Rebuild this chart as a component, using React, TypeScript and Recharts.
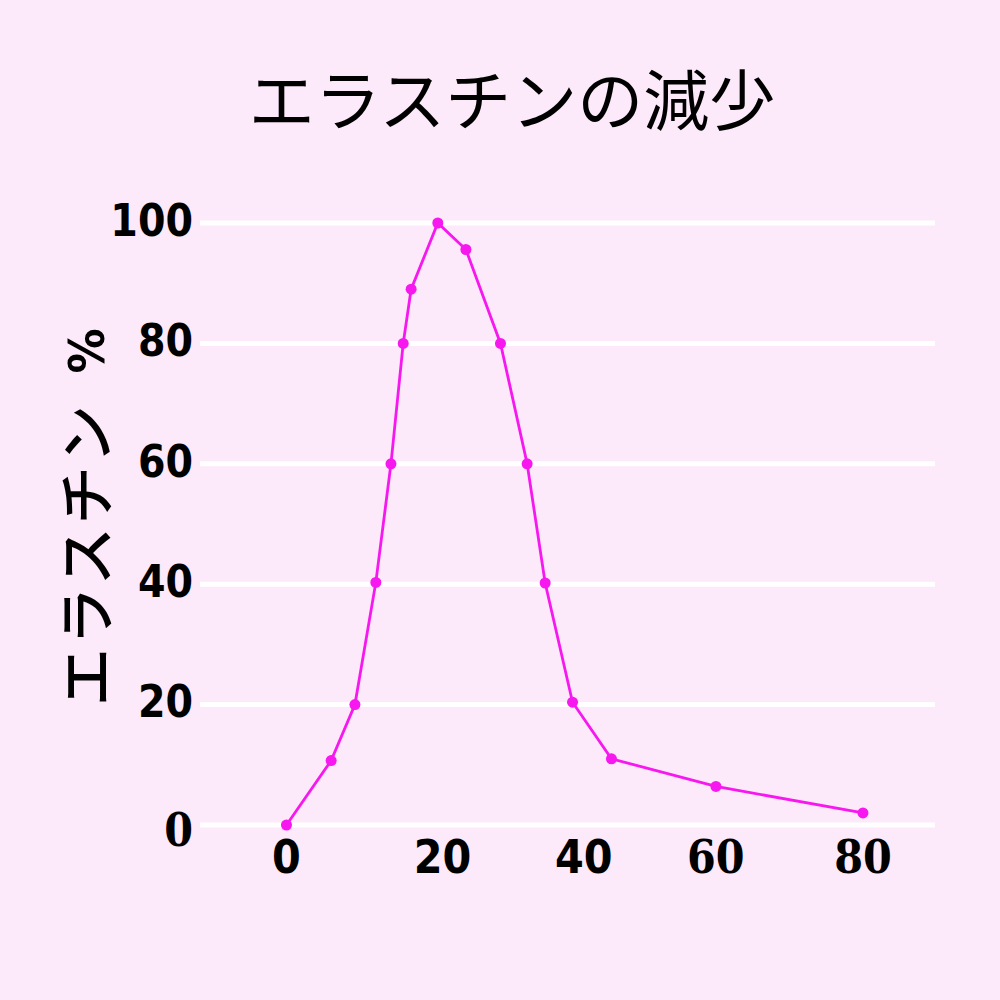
import { LineChart, Line, XAxis, YAxis, CartesianGrid } from "recharts";

// age (years) vs. relative elastin amount (%)
const ages = [0, 6.2, 9.5, 12.4, 14.5, 16.2, 17.3, 21, 24.9, 29.7, 33.4, 35.9, 39.7, 45.1, 59.6, 80];
const elastin = [0, 10.7, 20, 40.3, 60, 80, 89, 100, 95.6, 80, 60, 40.2, 20.4, 11, 6.4, 2];
const xTicks = [0, 20, 40, 60, 80];
const yTicks = [0, 20, 40, 60, 80, 100];
const title = "エラスチンの減少";
const yLabel = "エラスチン";
const yUnit = "%";

const data = ages.map((age, i) => ({ age, value: elastin[i] }));

const BG = "#fce9f9";
const MAGENTA = "#f618ef";
const SANS = '"DejaVu Sans", sans-serif';
const SERIF = '"DejaVu Serif", serif';
const CJK = '"Noto Sans CJK JP", sans-serif';

// the original mixes fonts and nudges a few tick labels
const xTickFont = [SANS, SANS, SANS, SERIF, SERIF];
const xTickShift = [0, 12, 9, -3, 0];

function XTick({ x, y, payload, index }: any) {
  return (
    <text
      x={x + (xTickShift[index] ?? 0)}
      y={y + 23}
      dy="0.36em"
      textAnchor="middle"
      fontFamily={xTickFont[index] ?? SANS}
      fontWeight="bold"
      fontSize={46}
      fill="#000"
      style={{ fontStretch: "condensed" }}
    >
      {payload.value}
    </text>
  );
}

function YTick({ x, y, payload }: any) {
  const isZero = payload.value === 0;
  return (
    <text
      x={x + 1}
      y={y + (isZero ? 4 : -3)}
      dy="0.36em"
      textAnchor="end"
      fontFamily={isZero ? SERIF : SANS}
      fontWeight="bold"
      fontSize={isZero ? 46 : 44}
      fill="#000"
      style={{ fontStretch: "condensed" }}
    >
      {payload.value}
    </text>
  );
}

export default function App() {
  return (
    <div style={{ position: "absolute", left: 0, top: 0, width: 1000, height: 1000, background: BG }}>
      <LineChart width={1000} height={1000} data={data} margin={{ top: 223, right: 65, bottom: 115, left: 80 }}>
        <CartesianGrid horizontal vertical={false} stroke="#ffffff" strokeWidth={5} />
        <XAxis
          dataKey="age"
          type="number"
          domain={[-12, 90]}
          ticks={xTicks}
          height={60}
          axisLine={false}
          tickLine={false}
          tick={<XTick />}
          interval={0}
        />
        <YAxis
          type="number"
          domain={[0, 100]}
          ticks={yTicks}
          width={120}
          axisLine={false}
          tickLine={false}
          tick={<YTick />}
          interval={0}
        />
        <Line
          type="linear"
          dataKey="value"
          stroke={MAGENTA}
          strokeWidth={2.8}
          dot={{ r: 5.5, fill: MAGENTA, stroke: MAGENTA, strokeWidth: 0 }}
          activeDot={false}
          isAnimationActive={false}
        />
      </LineChart>
      <svg width={1000} height={1000} style={{ position: "absolute", left: 0, top: 0, pointerEvents: "none" }}>
        <text x={512} y={102} dy="0.35em" textAnchor="middle" fontFamily={CJK} fontSize={66} fill="#000">
          {title}
        </text>
        <text
          transform="translate(108,706) rotate(-90)"
          x={0}
          y={0}
          textAnchor="start"
          fontFamily={CJK}
          fontWeight={500}
          fontSize={58}
          letterSpacing={3}
          fill="#000"
        >
          {yLabel}
        </text>
        <text
          transform="translate(104,351) rotate(-90)"
          x={0}
          y={0}
          textAnchor="middle"
          fontFamily={SANS}
          fontWeight="bold"
          fontSize={50}
          fill="#000"
          style={{ fontStretch: "condensed" }}
        >
          {yUnit}
        </text>
      </svg>
    </div>
  );
}
